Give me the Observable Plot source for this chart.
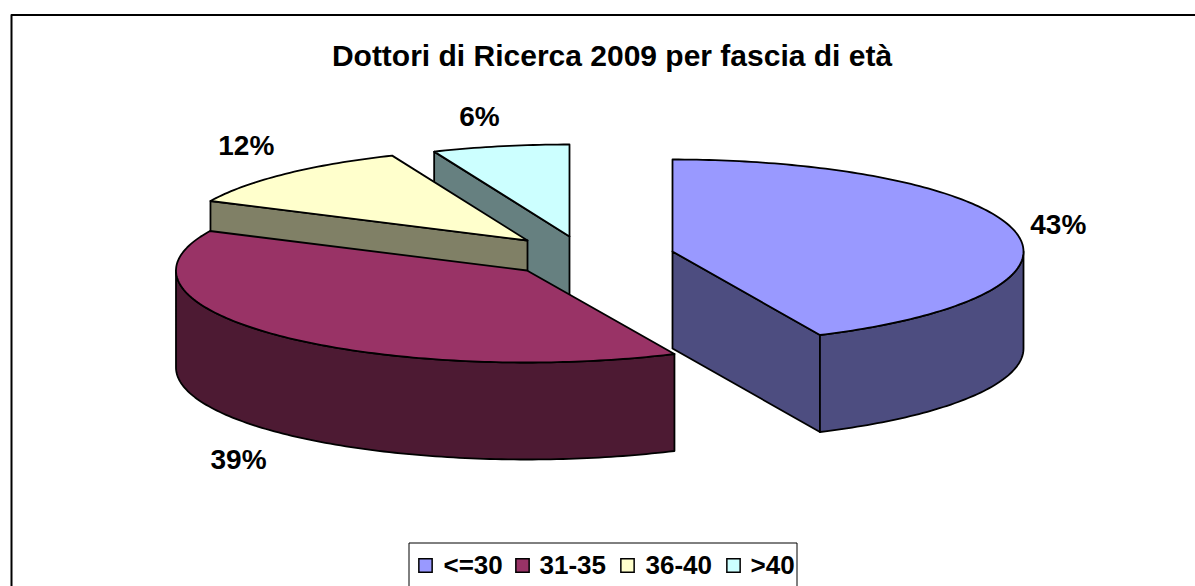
<!DOCTYPE html>
<html>
<head>
<meta charset="utf-8">
<style>html,body{margin:0;padding:0;background:#fff;overflow:hidden}svg{display:block}</style>
<script src="https://cdn.jsdelivr.net/npm/d3@7"></script>
<script src="https://cdn.jsdelivr.net/npm/@observablehq/plot@0.6"></script>
</head>
<body>
<div id="chart"></div>
<script>
const titleText = "Dottori di Ricerca 2009 per fascia di età";
const categories = ["<=30", "31-35", "36-40", ">40"];
const shares = [0.431, 0.3896, 0.1164, 0.063];
const colors = ["#9999FF", "#993366", "#FFFFCC", "#CCFFFF"];

// Pie layout (page pixels)
const W = 1195, H = 586;
const rx = 351, ry = 92, depth = 97;
const centerX = [672, 526.5, 527, 569];
const centerY = [251, 270, 240, 236];
const labelDx = [43, -39, -39, -21];
const labelDy = [-7, 125, -28, -29];
const legendSwatchX = [425, 522, 627, 733];
const legendTextX = [443, 539, 645, 750];
const legendY = 565;
const FS = 26, LABEL_FS = 28, TITLE_FS = 30;

const pct = d3.format(".0%");
const shade = c => { const r = d3.rgb(c); return d3.rgb(r.r / 2, r.g / 2, r.b / 2).formatHex(); };

let cum = 0;
const slices = shares.map((v, i) => {
  const a0 = cum * 2 * Math.PI; cum += v; const a1 = cum * 2 * Math.PI;
  return {i, a0, a1, mid: (a0 + a1) / 2, cx: centerX[i], cy: centerY[i], color: colors[i]};
});
const rim = (s, a, d = 0) => ({x: s.cx + rx * Math.sin(a), y: s.cy - ry * Math.cos(a) + d});

const faces = [];
let fid = 0;
function addFace(points, fill) {
  const id = fid++;
  [...points, points[0]].forEach(p => faces.push({...p, id, fill}));
}
function arcPts(s, a0, a1, d) {
  const n = Math.max(2, Math.ceil((a1 - a0) / (Math.PI / 180)));
  return d3.range(n + 1).map(k => rim(s, a0 + (a1 - a0) * k / n, d));
}
// back to front: last slice first
[...slices].reverse().forEach(s => {
  const dark = shade(s.color);
  const apex = {x: s.cx, y: s.cy}, apexB = {x: s.cx, y: s.cy + depth};
  // radial walls that face the viewer
  if (Math.cos(s.a1) < 0) addFace([apex, rim(s, s.a1), rim(s, s.a1, depth), apexB], dark);
  if (Math.cos(s.a0) > 0 && Math.sin(s.a0) < 0) addFace([apex, rim(s, s.a0), rim(s, s.a0, depth), apexB], dark);
  // outer wall, front half only
  const w0 = Math.max(s.a0, Math.PI / 2), w1 = Math.min(s.a1, 1.5 * Math.PI);
  if (w1 > w0) addFace([...arcPts(s, w0, w1, 0), ...arcPts(s, w0, w1, depth).reverse()], dark);
  // top
  addFace([apex, ...arcPts(s, s.a0, s.a1, 0)], s.color);
});

const labels = slices.map(s => {
  const p = rim(s, s.mid);
  return {x: p.x + labelDx[s.i], y: p.y + labelDy[s.i], text: pct(shares[s.i])};
});
const legendSwatches = categories.map((c, i) => ({x: legendSwatchX[i], y: legendY, fill: colors[i]}));
const legendTexts = categories.map((c, i) => ({x: legendTextX[i], y: legendY, text: c}));
const chartFrame = [{x: 11, y: H + 5}, {x: 11, y: 14.5}, {x: W + 5, y: 14.5}];
const legendFrame = [{x: 408.5, y: H + 5}, {x: 408.5, y: 542.5}, {x: 796.5, y: 542.5}, {x: 796.5, y: H + 5}];

const font = {fontFamily: "'Liberation Sans', Arial, sans-serif", fontWeight: "bold", fill: "#000"};

const chart = Plot.plot({
  width: W, height: H,
  marginTop: 0, marginRight: 0, marginBottom: 0, marginLeft: 0,
  x: {domain: [0, W], range: [0, W], axis: null},
  y: {domain: [0, H], range: [0, H], axis: null},
  color: {type: "identity"},
  style: {background: "#fff", overflow: "hidden"},
  marks: [
    Plot.line(chartFrame, {x: "x", y: "y", stroke: "#000", strokeWidth: 2, clip: true}),
    Plot.line(faces, {x: "x", y: "y", z: "id", fill: "fill", stroke: "#000", strokeWidth: 1.8, strokeLinejoin: "round"}),
    Plot.text(labels, {x: "x", y: "y", text: "text", fontSize: LABEL_FS, textAnchor: "middle", lineAnchor: "middle", ...font}),
    Plot.text([titleText], {x: () => 611.5, y: () => 56, text: d => d, fontSize: TITLE_FS, textAnchor: "middle", lineAnchor: "middle", ...font}),
    Plot.line(legendFrame, {x: "x", y: "y", stroke: "#000", strokeWidth: 1, clip: true}),
    Plot.dot(legendSwatches, {x: "x", y: "y", symbol: "square", r: 7.5, fill: "fill", stroke: "#000", strokeWidth: 1.5}),
    Plot.text(legendTexts, {x: "x", y: "y", text: "text", fontSize: FS, textAnchor: "start", lineAnchor: "middle", ...font})
  ]
});
document.getElementById("chart").append(chart);
</script>
</body>
</html>
